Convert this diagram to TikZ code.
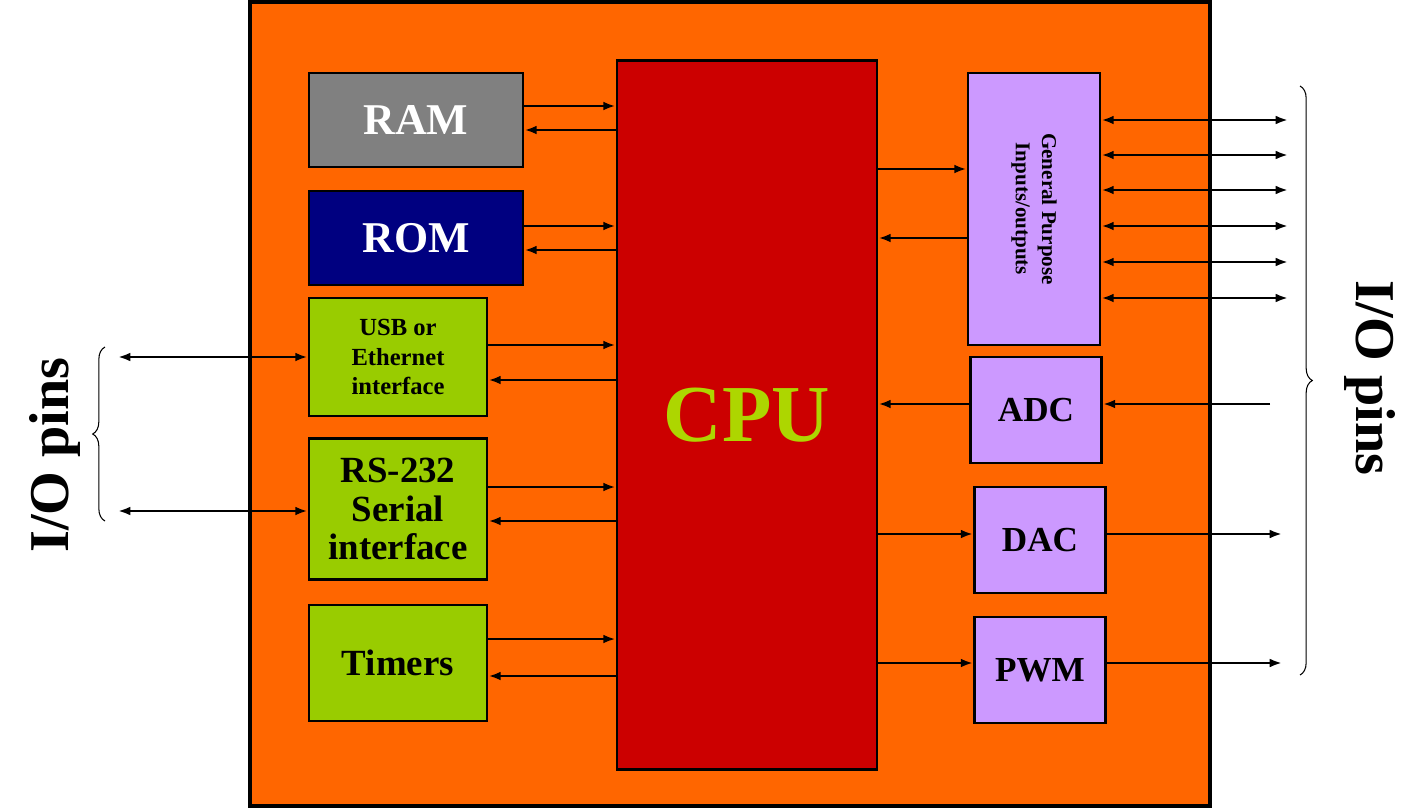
\documentclass[tikz,border=0pt]{standalone}
\usepackage{fontspec}
\setmainfont{Liberation Serif}
\usetikzlibrary{shapes,arrows.meta,decorations.pathreplacing}
\definecolor{chip}{HTML}{FF6600}
\definecolor{cpured}{HTML}{CC0000}
\definecolor{leaf}{HTML}{99CC00}
\definecolor{lilac}{HTML}{CC99FF}
\definecolor{navy}{HTML}{000080}
\begin{document}
\begin{tikzpicture}[x=0.02cm,y=-0.02cm,
block/.style={rectangle, draw=black, line width=1.6pt, inner sep=0pt, font=\bfseries, align=center},
memnode/.style={block, text=white, minimum width=4.28cm, minimum height=1.88cm, font=\fontsize{25}{28}\selectfont\bfseries},
greennode/.style={block, fill=leaf, minimum width=3.56cm},
purplenode/.style={block, fill=lilac, minimum width=2.62cm, minimum height=2.12cm, font=\fontsize{20}{24}\selectfont\bfseries},
sig/.style={-{Latex[length=7pt,width=5pt]}, line width=1.6pt},
bisig/.style={{Latex[length=7pt,width=5pt]}-{Latex[length=7pt,width=5pt]}, line width=1.6pt},
pinbrace/.style={decorate, decoration={brace, amplitude=7pt}, line width=0.6pt}
]
\useasboundingbox (0,0) rectangle (1416,809);
%Chip
\node[block, fill=chip, minimum width=19.2cm, minimum height=16.08cm, line width=2pt] at (730,404) (CHIP) {};

%Memories
\node[memnode, fill=gray] at (416,120) (RAM) {RAM};
\node[memnode, fill=navy] at (416,238) (ROM) {ROM};

%Interfaces
\node[greennode, minimum height=2.36cm, font=\fontsize{14}{17}\selectfont\bfseries] at (398,357) (USB) {USB or\\Ethernet\\interface};
\node[greennode, minimum height=2.82cm, font=\fontsize{21}{22}\selectfont\bfseries] at (398,509) (RS) {RS-232\\Serial\\interface};
\node[greennode, minimum height=2.32cm, font=\fontsize{21}{24}\selectfont\bfseries] at (398,663) (TIMERS) {Timers};

%CPU
\node[block, fill=cpured, text=leaf!80!yellow, minimum width=5.2cm, minimum height=14.18cm, font=\fontsize{46}{50}\selectfont\bfseries] at (747,415) (CPU) {CPU};

%Peripherals
\node[block, fill=lilac, minimum width=2.64cm, minimum height=5.44cm] at (1034,209) (GPIO) {};
\node[rotate=-90, font=\fontsize{12}{15}\selectfont\bfseries, align=center] at (1034,209) (GPIOTXT) {General Purpose\\Inputs/outputs};
\node[purplenode] at (1036,410) (ADC) {ADC};
\node[purplenode] at (1040,540) (DAC) {DAC};
\node[purplenode] at (1040,670) (PWM) {PWM};

%Pin ends
\coordinate (LP1) at (118,357);
\coordinate (LP2) at (118,511);
\coordinate (ADCIN) at (1270,404);
\coordinate (DACOUT) at (1282,534);
\coordinate (PWMOUT) at (1282,663);

%Lines
\draw[sig] (RAM.east|-0,106) -- (CPU.west|-0,106);
\draw[sig] (CPU.west|-0,130) -- (RAM.east|-0,130);
\draw[sig] (ROM.east|-0,226) -- (CPU.west|-0,226);
\draw[sig] (CPU.west|-0,250) -- (ROM.east|-0,250);
\draw[sig] (USB.east|-0,345) -- (CPU.west|-0,345);
\draw[sig] (CPU.west|-0,380) -- (USB.east|-0,380);
\draw[sig] (RS.east|-0,487) -- (CPU.west|-0,487);
\draw[sig] (CPU.west|-0,521) -- (RS.east|-0,521);
\draw[sig] (TIMERS.east|-0,639) -- (CPU.west|-0,639);
\draw[sig] (CPU.west|-0,676) -- (TIMERS.east|-0,676);

\draw[sig] (CPU.east|-0,169) -- (GPIO.west|-0,169);
\draw[sig] (GPIO.west|-0,238) -- (CPU.east|-0,238);
\foreach \y in {120,155,190,226,262,298}
  \draw[bisig] (GPIO.east|-0,\y) -- (1288,\y);
\draw[sig] (ADCIN) -- (ADC.east|-ADCIN);
\draw[sig] (ADC.west|-ADCIN) -- (CPU.east|-ADCIN);
\draw[sig] (CPU.east|-DACOUT) -- (DAC.west|-DACOUT);
\draw[sig] (DAC.east|-DACOUT) -- (DACOUT);
\draw[sig] (CPU.east|-PWMOUT) -- (PWM.west|-PWMOUT);
\draw[sig] (PWM.east|-PWMOUT) -- (PWMOUT);

\draw[bisig] (LP1) -- (USB.west|-LP1);
\draw[bisig] (LP2) -- (RS.west|-LP2);

%Braces and labels
\draw[pinbrace] (105,521) -- (105,347);
\draw[pinbrace] (1300,86) -- (1300,675);
\node[rotate=90, font=\fontsize{32}{36}\selectfont\bfseries] at (55,455) (LPINS) {I/O pins};
\node[rotate=-90, font=\fontsize{32}{36}\selectfont\bfseries] at (1370,378) (RPINS) {I/O pins};
\end{tikzpicture}
\end{document}
